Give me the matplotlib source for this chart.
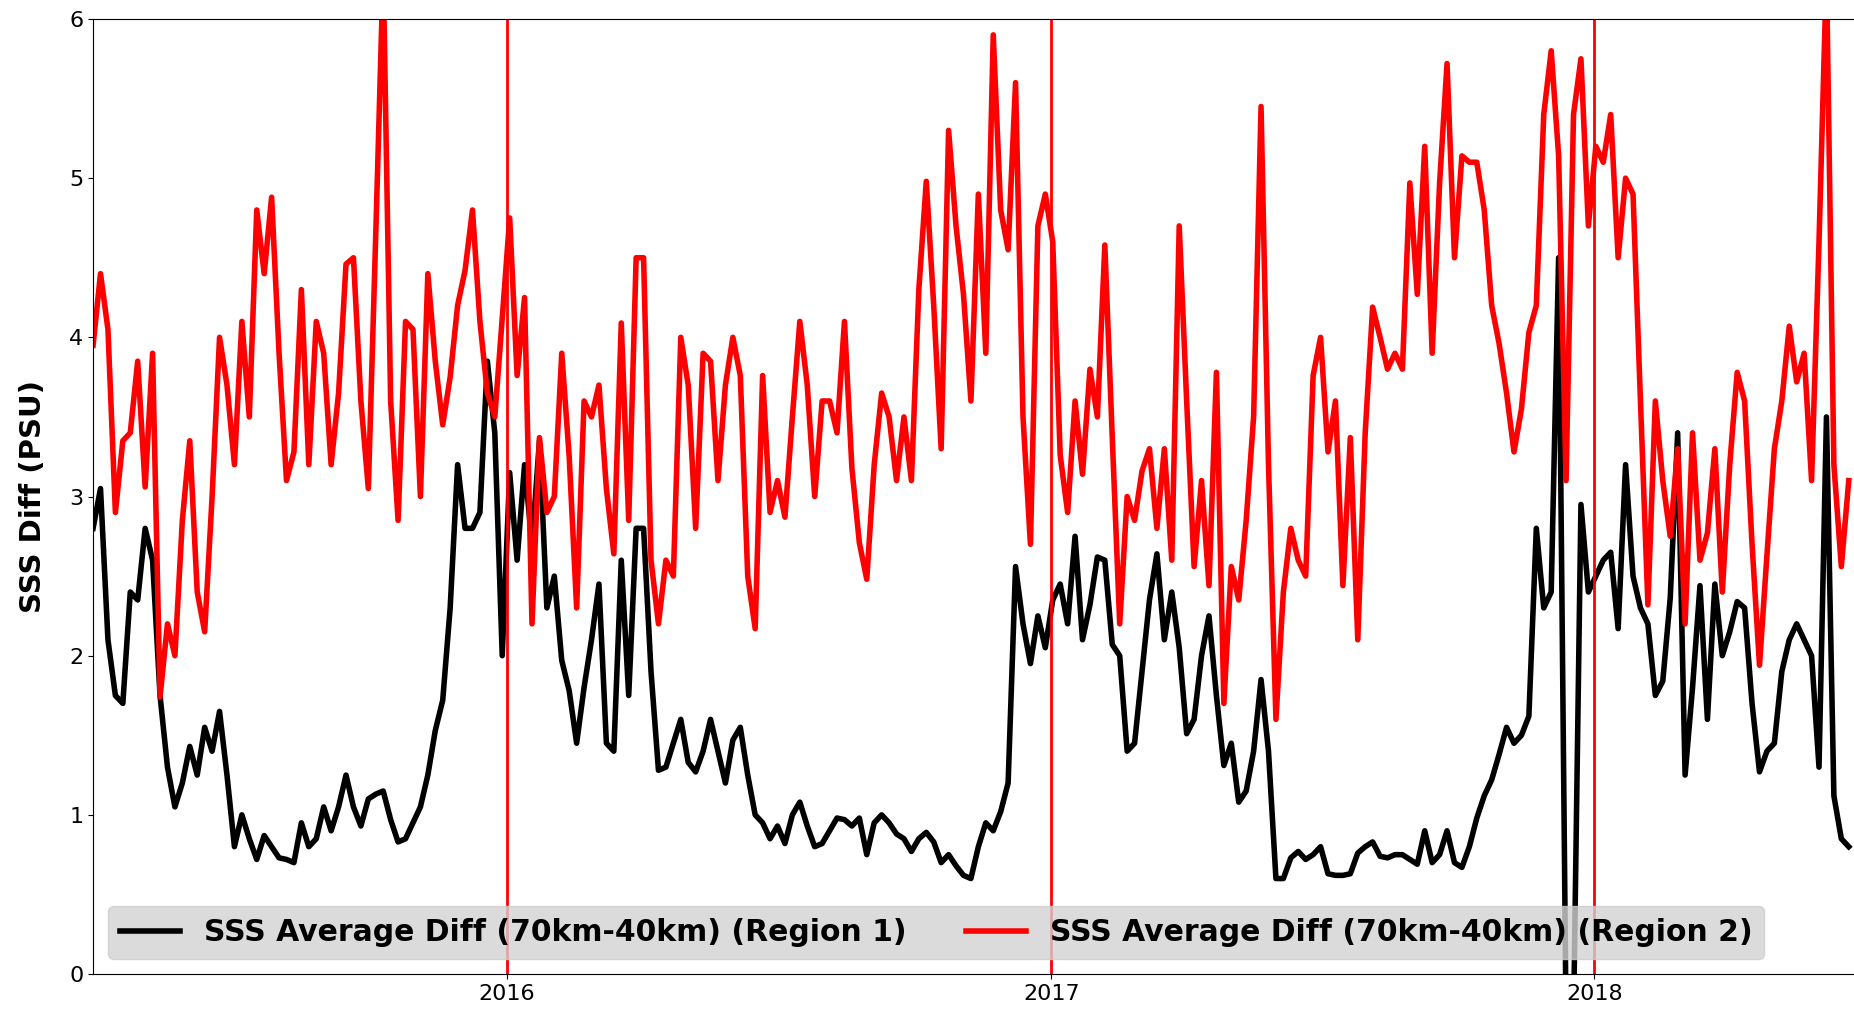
import matplotlib
matplotlib.use('Agg')
import matplotlib.pyplot as plt
import matplotlib.dates as mdates
import pandas as pd

# values read every 5 days starting 2015-03-29
start = '2015-03-29'
step = '5D'

region1 = [
    2.8, 3.05, 2.1, 1.75, 1.7, 2.4, 2.35, 2.8, 2.6, 1.75,
    1.3, 1.05, 1.2, 1.43, 1.25, 1.55, 1.4, 1.65, 1.25, 0.8,
    1.0, 0.85, 0.72, 0.87, 0.8, 0.73, 0.72, 0.7, 0.95, 0.8,
    0.85, 1.05, 0.9, 1.05, 1.25, 1.05, 0.93, 1.1, 1.13, 1.15,
    0.97, 0.83, 0.85, 0.95, 1.05, 1.25, 1.53, 1.72, 2.3, 3.2,
    2.8, 2.8, 2.9, 3.85, 3.4, 2.0, 3.15, 2.6, 3.2, 2.7,
    3.35, 2.3, 2.5, 1.97, 1.78, 1.45, 1.8, 2.1, 2.45, 1.45,
    1.4, 2.6, 1.75, 2.8, 2.8, 1.9, 1.28, 1.3, 1.45, 1.6,
    1.33, 1.27, 1.4, 1.6, 1.4, 1.2, 1.47, 1.55, 1.25, 1.0,
    0.95, 0.85, 0.93, 0.82, 1.0, 1.08, 0.93, 0.8, 0.82, 0.9,
    0.98, 0.97, 0.93, 0.98, 0.75, 0.95, 1.0, 0.95, 0.88, 0.85,
    0.77, 0.85, 0.89, 0.83, 0.7, 0.75, 0.68, 0.62, 0.6, 0.8,
    0.95, 0.9, 1.02, 1.2, 2.56, 2.2, 1.95, 2.25, 2.05, 2.35,
    2.45, 2.2, 2.75, 2.1, 2.32, 2.62, 2.6, 2.07, 2.0, 1.4,
    1.45, 1.9, 2.35, 2.64, 2.1, 2.4, 2.05, 1.51, 1.6, 2.0,
    2.25, 1.75, 1.31, 1.45, 1.08, 1.15, 1.4, 1.85, 1.4,
    0.6, 0.6, 0.73, 0.77, 0.72, 0.75, 0.8, 0.63, 0.62, 0.62,
    0.63, 0.76, 0.8, 0.83, 0.74, 0.73, 0.75, 0.75, 0.72, 0.69,
    0.9, 0.7, 0.75, 0.9, 0.7, 0.67, 0.8, 0.98, 1.12, 1.22,
    1.38, 1.55, 1.45, 1.5, 1.62, 2.8, 2.3, 2.4, 4.5, -0.3,
    -0.3, 2.95, 2.4, 2.5, 2.6, 2.65, 2.17, 3.2, 2.5, 2.3,
    2.2, 1.75, 1.84, 2.36, 3.4, 1.25, 1.8, 2.44, 1.6, 2.45,
    2.0, 2.15, 2.34, 2.3, 1.7, 1.27, 1.4, 1.45, 1.9, 2.1,
    2.2, 2.1, 2.0, 1.3, 3.5, 1.12, 0.85, 0.8,
]

region2 = [
    3.95, 4.4, 4.05, 2.9, 3.35, 3.4, 3.85, 3.06, 3.9, 1.74,
    2.2, 2.0, 2.85, 3.35, 2.4, 2.15, 3.0, 4.0, 3.7, 3.2,
    4.1, 3.5, 4.8, 4.4, 4.88, 3.9, 3.1, 3.28, 4.3, 3.2,
    4.1, 3.9, 3.2, 3.65, 4.46, 4.5, 3.6, 3.05, 4.65, 6.3,
    3.6, 2.85, 4.1, 4.05, 3.0, 4.4, 3.85, 3.45, 3.75, 4.2,
    4.42, 4.8, 4.1, 3.65, 3.5, 4.12, 4.75, 3.76, 4.25, 2.2,
    3.37, 2.9, 3.0, 3.9, 3.25, 2.3, 3.6, 3.5, 3.7, 3.05,
    2.64, 4.09, 2.85, 4.5, 4.5, 2.6, 2.2, 2.6, 2.5, 4.0,
    3.7, 2.8, 3.9, 3.85, 3.1, 3.7, 4.0, 3.76, 2.5, 2.17,
    3.76, 2.9, 3.1, 2.87, 3.5, 4.1, 3.7, 3.0, 3.6, 3.6,
    3.4, 4.1, 3.18, 2.71, 2.48, 3.2, 3.65, 3.5, 3.1, 3.5,
    3.1, 4.3, 4.98, 4.2, 3.3, 5.3, 4.7, 4.27, 3.6, 4.9,
    3.9, 5.9, 4.8, 4.55, 5.6, 3.5, 2.7, 4.7, 4.9, 4.6,
    3.26, 2.9, 3.6, 3.14, 3.8, 3.5, 4.58, 3.37, 2.2, 3.0,
    2.85, 3.16, 3.3, 2.8, 3.3, 2.6, 4.7, 3.6, 2.56, 3.1,
    2.44, 3.78, 1.7, 2.56, 2.35, 2.85, 3.5, 5.45, 3.2,
    1.6, 2.4, 2.8, 2.6, 2.5, 3.76, 4.0, 3.28, 3.6, 2.44,
    3.37, 2.1, 3.4, 4.19, 4.0, 3.8, 3.9, 3.8, 4.97, 4.27,
    5.2, 3.9, 4.97, 5.72, 4.5, 5.14, 5.1, 5.1, 4.8, 4.2,
    3.96, 3.65, 3.28, 3.55, 4.03, 4.2, 5.4, 5.8, 5.14, 3.1,
    5.4, 5.75, 4.7, 5.2, 5.1, 5.4, 4.5, 5.0, 4.9, 3.6,
    2.32, 3.6, 3.1, 2.75, 3.3, 2.2, 3.4, 2.6, 2.77, 3.3,
    2.4, 3.2, 3.78, 3.6, 2.7, 1.94, 2.63, 3.3, 3.6, 4.07,
    3.72, 3.9, 3.1, 4.6, 6.3, 3.2, 2.56, 3.1,
]

year_marks = ['2016-01-01', '2017-01-01', '2018-01-01']

dates = pd.date_range(start, periods=len(region1), freq=step)

fig = plt.figure(figsize=(18.54, 10.14), dpi=100)
ax = fig.add_axes([0.0502, 0.0394, 0.955, 0.9419])

ax.plot(dates, region1, color='black', lw=4,
        label='SSS Average Diff (70km-40km) (Region 1)')
ax.plot(dates, region2, color='red', lw=4,
        label='SSS Average Diff (70km-40km) (Region 2)')
for d in year_marks:
    ax.axvline(pd.Timestamp(d), color='red', lw=2)

ax.set_ylim(0, 6)
ax.set_xlim(pd.Timestamp('2015-03-29'), pd.Timestamp('2018-07-01'))
ax.xaxis.set_major_locator(mdates.YearLocator())
ax.xaxis.set_major_formatter(mdates.DateFormatter('%Y'))
ax.tick_params(labelsize=16)
ax.set_ylabel('SSS Diff (PSU)', fontsize=21, fontweight='bold', labelpad=16)

ax.legend(loc='lower left', ncol=2, prop={'weight': 'bold', 'size': 21.5},
          facecolor='lightgray')

fig.savefig('out.png', dpi=100)
